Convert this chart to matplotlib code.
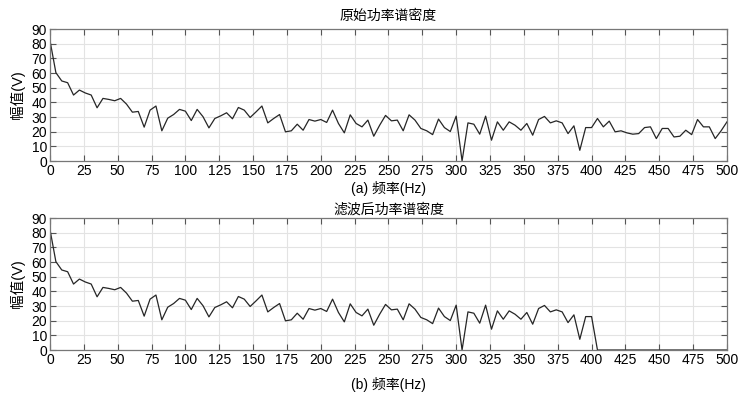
import numpy as np
import matplotlib.pyplot as plt

# PSD, 116 bins from 0 to 500 Hz
psd_raw = [
    82.2, 60.3, 54.6, 53.4, 45.0, 48.4, 46.4, 45.0, 36.3, 42.7,
    42.0, 41.1, 42.7, 38.8, 33.3, 33.8, 23.1, 34.7, 37.5, 20.6,
    29.2, 31.7, 35.2, 34.0, 27.6, 35.2, 30.2, 22.6, 29.0, 30.8,
    32.9, 28.8, 36.5, 34.7, 29.7, 33.5, 37.5, 26.0, 29.0, 31.7,
    19.9, 20.6, 25.1, 21.0, 28.3, 27.2, 28.3, 26.3, 34.7, 25.6,
    19.2, 31.5, 25.6, 23.3, 27.9, 16.9, 24.4, 31.1, 27.4, 27.9,
    20.6, 31.5, 27.9, 22.2, 20.6, 18.0, 28.6, 22.8, 20.1, 30.6,
    0.0, 26.0, 25.1, 18.3, 30.6, 14.2, 26.7, 21.0, 26.7, 24.4,
    21.0, 25.6, 17.6, 28.3, 30.4, 26.0, 27.4, 26.0, 18.7, 24.0,
    7.3, 22.8, 22.8, 29.0, 23.3, 27.2, 19.9, 20.6, 19.2, 18.3,
    18.7, 22.8, 23.3, 15.3, 22.2, 22.2, 16.4, 16.9, 21.0, 18.0,
    28.3, 23.3, 23.3, 15.3, 20.6, 26.7,
]
# after the low-pass filter everything above 400 Hz is gone
psd_filt = psd_raw[:93] + [0.0] * (len(psd_raw) - 93)

freq = np.linspace(0, 500, len(psd_raw))
xticks = list(range(0, 501, 25))
yticks = list(range(0, 91, 10))

plt.rcParams['font.family'] = ['Liberation Sans', 'Noto Sans CJK SC']
plt.rcParams['font.size'] = 10

fig = plt.figure(figsize=(7.46, 3.95), dpi=100)
panels = [
    (psd_raw, '原始功率谱密度', '(a) 频率(Hz)', 0.5924, 6.5, 2.5),
    (psd_filt, '滤波后功率谱密度', '(b) 频率(Hz)', 0.1139, 3, 7),
]
for vals, title, xlab, bottom, tpad, xpad in panels:
    ax = fig.add_axes([0.067, bottom, 0.9075, 0.334])
    ax.plot(freq, vals, color='#262626', linewidth=0.9)
    ax.set_xlim(0, 500)
    ax.set_ylim(0, 90)
    ax.set_xticks(xticks)
    ax.set_yticks(yticks)
    ax.grid(True, color='#e3e3e3', linewidth=0.8)
    ax.set_axisbelow(True)
    ax.tick_params(direction='in', top=True, right=True, length=4.5,
                   color='#555555', labelsize=10, pad=2)
    for sp in ax.spines.values():
        sp.set_color('#777777')
        sp.set_linewidth(0.9)
    ax.set_title(title, fontsize=10, pad=tpad)
    ax.set_xlabel(xlab, fontsize=10, labelpad=xpad)
    ax.set_ylabel('幅值(V)', fontsize=10.5, labelpad=5)

fig.savefig('out.png', dpi=100)
